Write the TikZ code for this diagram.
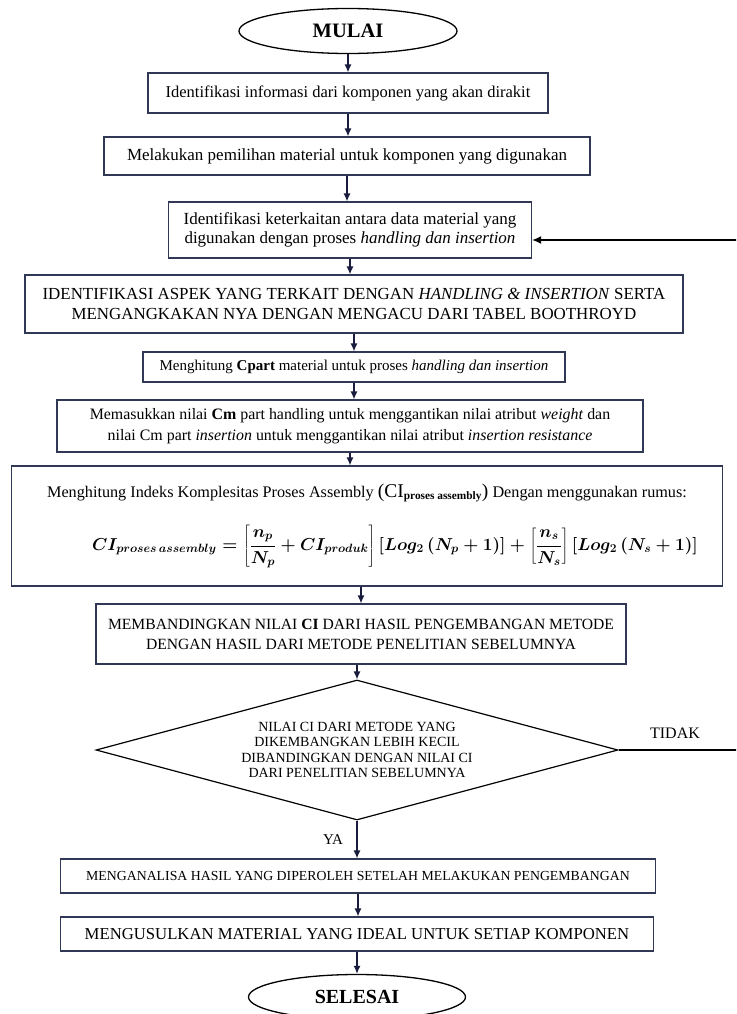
\documentclass[tikz,border=0pt]{standalone}
\usepackage{fontspec}
\setmainfont{Liberation Serif}
\usetikzlibrary{shapes.geometric,arrows.meta,calc}
\definecolor{lineC}{RGB}{25,28,60}
\definecolor{boxC}{RGB}{48,56,86}
\newcommand\fsz[2]{\fontsize{#1pt}{#2pt}\selectfont}
\newsavebox\cibox
\begin{document}
\sbox\cibox{\begin{tabular}{@{}c@{}}
\fsz{16.2}{20}Menghitung Indeks Komplesitas Proses Assembly {\fsz{19.5}{20}(CI}\textsubscript{\bfseries proses assembly}{\fsz{19.5}{20})} Dengan menggunakan rumus:\\[24pt]
\hspace*{56pt}\fsz{17}{20}\boldmath$\displaystyle CI_{proses\,assembly} = \left[\frac{n_p}{N_p} + CI_{produk}\right]\left[Log_2\left(N_p+1\right)\right] + \left[\frac{n_s}{N_s}\right]\left[Log_2\left(N_s+1\right)\right]$
\end{tabular}}
\begin{tikzpicture}[x=1pt,y=-1pt,
  procbox/.style={draw=boxC, line width=1.2pt, align=center, inner sep=0pt, fill=white},
  ellip/.style={draw=black, ellipse, line width=1.3pt, inner sep=0pt, fill=white},
  decis/.style={draw=black, diamond, line width=1.2pt, inner sep=0pt, aspect=3.7, align=center},
  flow/.style={draw=lineC, line width=1.3pt, -{Latex[length=8pt,width=7pt]}},
  loopline/.style={draw=black, line width=1.6pt},
  lbl/.style={inner sep=0pt}
]
\useasboundingbox (0,0) rectangle (736,1014);
\clip (0,0) rectangle (736,1014);
\fill[white] (0,0) rectangle (736,1014);

\node[ellip, minimum width=218, minimum height=45, font={\fsz{20.5}{22}\bfseries}] (start) at (348,31) {MULAI};

\node[procbox, minimum width=400, minimum height=40, font={\fsz{16.5}{20}}] (b1) at (348,93)
  {Identifikasi informasi dari komponen yang akan dirakit};

\node[procbox, minimum width=486, minimum height=38, font={\fsz{17}{20}}] (b2) at (347,156)
  {Melakukan pemilihan material untuk komponen yang digunakan};

\node[procbox, minimum width=363, minimum height=56, font={\fsz{17}{19}}] (b3) at (350,230)
  {Identifikasi keterkaitan antara data material yang\\
   digunakan dengan proses \textit{handling dan insertion}};

\node[procbox, minimum width=658, minimum height=58, font={\fsz{16.9}{20}}] (b4) at (354,304)
  {IDENTIFIKASI ASPEK YANG TERKAIT DENGAN \textit{HANDLING \& INSERTION} SERTA\\
   MENGANGKAKAN NYA DENGAN MENGACU DARI TABEL BOOTHROYD};

\node[procbox, minimum width=422, minimum height=30, font={\fsz{15}{18}}] (b5) at (354,367)
  {Menghitung \textbf{Cpart} material untuk proses \textit{handling dan insertion}};

\node[procbox, minimum width=586, minimum height=52, font={\fsz{15.9}{21}}] (b6) at (350,426)
  {Memasukkan nilai \textbf{Cm} part handling untuk menggantikan nilai atribut \textit{weight} dan\\
   nilai Cm part \textit{insertion} untuk menggantikan nilai atribut \textit{insertion resistance}};

\node[procbox, minimum width=711, minimum height=120] (b7) at (367,526) {\usebox\cibox};

\node[procbox, minimum width=530, minimum height=60, font={\fsz{15.6}{20}}] (b8) at (361,634)
  {MEMBANDINGKAN NILAI \textbf{CI} DARI HASIL PENGEMBANGAN METODE\\
   DENGAN HASIL DARI METODE PENELITIAN SEBELUMNYA};

\node[decis, minimum width=522, minimum height=140, font={\fsz{14}{15.2}}] (dia) at (357,750)
  {NILAI CI DARI METODE YANG\\
   DIKEMBANGKAN LEBIH KECIL\\
   DIBANDINGKAN DENGAN NILAI CI\\
   DARI PENELITIAN SEBELUMNYA};

\node[lbl, font={\fsz{16}{18}}] (tidak) at (675,733) {TIDAK};
\node[lbl, font={\fsz{15}{18}}] (ya) at (333,840) {YA};

\node[procbox, minimum width=595, minimum height=34, font={\fsz{13.8}{16}}] (b9) at (358,876)
  {MENGANALISA HASIL YANG DIPEROLEH SETELAH MELAKUKAN PENGEMBANGAN};

\node[procbox, minimum width=593, minimum height=34, font={\fsz{16.7}{19}}] (b10) at (357,934)
  {MENGUSULKAN MATERIAL YANG IDEAL UNTUK SETIAP KOMPONEN};

\node[ellip, minimum width=217, minimum height=45, font={\fsz{20}{22}\bfseries}] (stop) at (357,997) {SELESAI};

\draw[flow] (start.south) -- (start.south |- b1.north);
\draw[flow] (b1.south) -- (b1.south |- b2.north);
\draw[flow] (b2.south) -- (b2.south |- b3.north);
\draw[flow] (b3.south) -- (b3.south |- b4.north);
\draw[flow] (b4.south) -- (b4.south |- b5.north);
\draw[flow] (b5.south) -- (b5.south |- b6.north);
\draw[flow] (b6.south) -- (b6.south |- b7.north);
\draw[flow] (b8.north |- b7.south) -- (b8.north);
\draw[flow] (dia.north |- b8.south) -- (dia.north);
\draw[flow] (dia.south) -- (dia.south |- b9.north);
\draw[flow] (b9.south) -- (b9.south |- b10.north);
\draw[flow] (b10.south) -- (b10.south |- stop.north);

\coordinate (ret) at ($(b3.east)+(0,10)$);
\coordinate (rx) at (748,240);
\draw[loopline] (dia.east) -| (rx);
\draw[loopline, -{Latex[length=9pt,width=8pt]}] (rx) -- (ret);
\end{tikzpicture}
\end{document}
